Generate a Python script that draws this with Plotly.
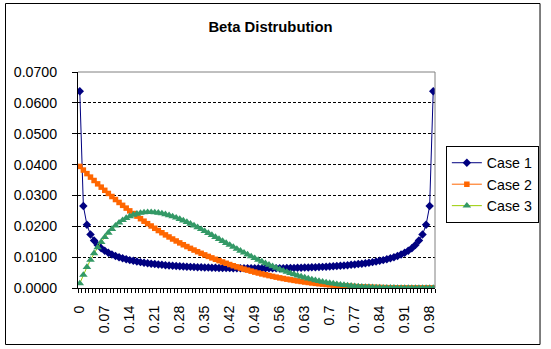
import plotly.graph_objects as go

categories = [0.00, 0.01, 0.02, 0.03, 0.04, 0.05, 0.06, 0.07, 0.08, 0.09,
              0.10, 0.11, 0.12, 0.13, 0.14, 0.15, 0.16, 0.17, 0.18, 0.19,
              0.20, 0.21, 0.22, 0.23, 0.24, 0.25, 0.26, 0.27, 0.28, 0.29,
              0.30, 0.31, 0.32, 0.33, 0.34, 0.35, 0.36, 0.37, 0.38, 0.39,
              0.40, 0.41, 0.42, 0.43, 0.44, 0.45, 0.46, 0.47, 0.48, 0.49,
              0.50, 0.51, 0.52, 0.53, 0.54, 0.55, 0.56, 0.57, 0.58, 0.59,
              0.60, 0.61, 0.62, 0.63, 0.64, 0.65, 0.66, 0.67, 0.68, 0.69,
              0.70, 0.71, 0.72, 0.73, 0.74, 0.75, 0.76, 0.77, 0.78, 0.79,
              0.80, 0.81, 0.82, 0.83, 0.84, 0.85, 0.86, 0.87, 0.88, 0.89,
              0.90, 0.91, 0.92, 0.93, 0.94, 0.95, 0.96, 0.97, 0.98, 0.99]

case1 = [0.06377, 0.02657, 0.02049, 0.01732, 0.01536, 0.01396, 0.01291, 0.01209, 0.01141, 0.01086,
         0.01038, 0.00998, 0.00962, 0.00931, 0.00904, 0.00880, 0.00858, 0.00838, 0.00820, 0.00803,
         0.00788, 0.00775, 0.00762, 0.00751, 0.00740, 0.00730, 0.00721, 0.00713, 0.00705, 0.00698,
         0.00691, 0.00685, 0.00680, 0.00674, 0.00670, 0.00665, 0.00661, 0.00658, 0.00654, 0.00651,
         0.00648, 0.00646, 0.00644, 0.00642, 0.00641, 0.00639, 0.00638, 0.00637, 0.00637, 0.00637,
         0.00637, 0.00637, 0.00637, 0.00638, 0.00639, 0.00641, 0.00642, 0.00644, 0.00646, 0.00648,
         0.00651, 0.00654, 0.00658, 0.00661, 0.00665, 0.00670, 0.00674, 0.00680, 0.00685, 0.00691,
         0.00698, 0.00705, 0.00713, 0.00721, 0.00730, 0.00740, 0.00751, 0.00762, 0.00775, 0.00788,
         0.00803, 0.00820, 0.00838, 0.00858, 0.00880, 0.00904, 0.00931, 0.00962, 0.00998, 0.01038,
         0.01086, 0.01141, 0.01209, 0.01291, 0.01396, 0.01536, 0.01732, 0.02049, 0.02657, 0.06377]

case2 = [0.03940, 0.03822, 0.03707, 0.03594, 0.03484, 0.03375, 0.03269, 0.03166, 0.03064, 0.02965,
         0.02867, 0.02772, 0.02679, 0.02589, 0.02500, 0.02413, 0.02329, 0.02246, 0.02165, 0.02086,
         0.02010, 0.01935, 0.01862, 0.01791, 0.01721, 0.01654, 0.01588, 0.01524, 0.01462, 0.01401,
         0.01343, 0.01285, 0.01230, 0.01176, 0.01124, 0.01073, 0.01024, 0.00976, 0.00930, 0.00886,
         0.00842, 0.00801, 0.00760, 0.00721, 0.00684, 0.00647, 0.00612, 0.00579, 0.00546, 0.00515,
         0.00485, 0.00456, 0.00429, 0.00402, 0.00377, 0.00352, 0.00329, 0.00307, 0.00286, 0.00266,
         0.00246, 0.00228, 0.00211, 0.00194, 0.00179, 0.00164, 0.00150, 0.00137, 0.00125, 0.00113,
         0.00103, 0.00093, 0.00083, 0.00074, 0.00066, 0.00059, 0.00052, 0.00046, 0.00040, 0.00034,
         0.00030, 0.00025, 0.00021, 0.00018, 0.00015, 0.00012, 0.00010, 0.00008, 0.00006, 0.00005,
         0.00003, 0.00002, 0.00002, 0.00001, 0.00001, 0.00001, 0.00000, 0.00000, 0.00000, 0.00000]

case3 = [0.00147, 0.00424, 0.00678, 0.00911, 0.01123, 0.01316, 0.01490, 0.01647, 0.01787, 0.01912,
         0.02021, 0.02116, 0.02198, 0.02267, 0.02325, 0.02371, 0.02406, 0.02432, 0.02449, 0.02457,
         0.02457, 0.02449, 0.02435, 0.02415, 0.02388, 0.02357, 0.02320, 0.02279, 0.02235, 0.02186,
         0.02135, 0.02081, 0.02024, 0.01965, 0.01905, 0.01843, 0.01780, 0.01717, 0.01652, 0.01588,
         0.01523, 0.01458, 0.01394, 0.01330, 0.01267, 0.01204, 0.01143, 0.01083, 0.01024, 0.00966,
         0.00910, 0.00855, 0.00802, 0.00750, 0.00701, 0.00653, 0.00607, 0.00563, 0.00521, 0.00480,
         0.00442, 0.00405, 0.00371, 0.00338, 0.00307, 0.00278, 0.00251, 0.00226, 0.00202, 0.00180,
         0.00160, 0.00142, 0.00124, 0.00109, 0.00094, 0.00082, 0.00070, 0.00060, 0.00050, 0.00042,
         0.00035, 0.00029, 0.00023, 0.00019, 0.00015, 0.00011, 0.00009, 0.00006, 0.00005, 0.00003,
         0.00002, 0.00001, 0.00001, 0.00000, 0.00000, 0.00000, 0.00000, 0.00000, 0.00000, 0.00000]

tick_values = [0.00, 0.07, 0.14, 0.21, 0.28, 0.35, 0.42, 0.49, 0.56, 0.63, 0.70, 0.77, 0.84, 0.91, 0.98]
tick_labels = ["0", "0.07", "0.14", "0.21", "0.28", "0.35", "0.42", "0.49", "0.56", "0.63",
               "0.7", "0.77", "0.84", "0.91", "0.98"]
y_ticks = [0.0, 0.01, 0.02, 0.03, 0.04, 0.05, 0.06, 0.07]
y_labels = ["0.0000", "0.0100", "0.0200", "0.0300", "0.0400", "0.0500", "0.0600", "0.0700"]

FONT = "Liberation Sans, Arial, sans-serif"
FS = 14.2
W, H = 551, 349
L, R, T, B = 78, 111, 72, 61
PW, PH = W - L - R, H - T - B

fig = go.Figure()
fig.add_trace(go.Scatter(x=categories, y=case1, name="Case 1", mode="lines+markers",
                         line=dict(color="#000080", width=1),
                         marker=dict(symbol="diamond", size=6.5, color="#000080", line=dict(width=0))))
fig.add_trace(go.Scatter(x=categories, y=case2, name="Case 2", mode="lines+markers",
                         line=dict(color="#FF6600", width=1),
                         marker=dict(symbol="square", size=5.5, color="#FF6600", line=dict(width=0))))
fig.add_trace(go.Scatter(x=categories, y=case3, name="Case 3", mode="lines+markers",
                         line=dict(color="#99CC00", width=1),
                         marker=dict(symbol="triangle-up", size=7.5, color="#339966", line=dict(width=0))))

def px_x(p):
    return (p - L) / PW

def px_y(p):
    return (H - B - p) / PH

shapes = [
    dict(type="line", xref="paper", yref="paper", x0=0, x1=1, y0=1, y1=1,
         line=dict(color="#808080", width=1)),
    dict(type="line", xref="paper", yref="paper", x0=1, x1=1, y0=0, y1=1,
         line=dict(color="#808080", width=1)),
    dict(type="rect", xref="paper", yref="paper",
         x0=px_x(4.5), x1=px_x(546.5), y0=px_y(344.5), y1=px_y(3.5),
         line=dict(color="black", width=1), fillcolor="rgba(0,0,0,0)", layer="below"),
]

fig.update_layout(
    width=W, height=H,
    margin=dict(l=L, r=R, t=T, b=B, pad=0),
    paper_bgcolor="white", plot_bgcolor="white",
    font=dict(family=FONT, size=FS, color="black"),
    title=dict(text="Beta Distrubution", x=270.5 / W, xref="container", xanchor="center",
               y=1 - 27 / H, yref="container", yanchor="middle",
               font=dict(family=FONT, size=14.8, color="black", weight="bold")),
    showlegend=True,
    legend=dict(x=px_x(451), y=px_y(146), xanchor="left", yanchor="top",
                bordercolor="black", borderwidth=1, bgcolor="white",
                font=dict(family=FONT, size=FS, color="black"),
                itemwidth=30, tracegroupgap=0),
    shapes=shapes,
    xaxis=dict(range=[-0.005, 0.995], tickmode="array", tickvals=tick_values, ticktext=tick_labels,
               tickangle=-90, ticks="outside", ticklen=0, showgrid=False, zeroline=False,
               showline=True, linecolor="black", linewidth=1,
               ticklabelstandoff=11,
               minor=dict(tick0=-0.005, dtick=0.01, ticks="outside", ticklen=4,
                          tickcolor="black", showgrid=False),
               tickfont=dict(family=FONT, size=FS, color="black")),
    yaxis=dict(range=[0, 0.07], tickmode="array", tickvals=y_ticks, ticktext=y_labels,
               ticks="outside", ticklen=5, tickcolor="black", showgrid=True,
               gridcolor="black", gridwidth=1, griddash="3px,2px", zeroline=False,
               showline=True, linecolor="black", linewidth=1,
               ticklabelstandoff=12,
               tickfont=dict(family=FONT, size=FS, color="black")),
)

fig.write_html("out.html")
